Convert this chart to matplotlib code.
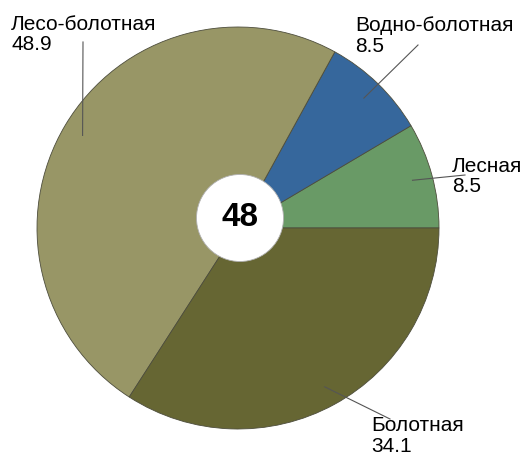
import numpy as np
import matplotlib.pyplot as plt
from matplotlib.patches import Circle

plt.rcParams['font.family'] = ['Liberation Sans', 'DejaVu Sans']

# wetland types, counter-clockwise from 3 o'clock
categories = ["Лесная", "Водно-болотная", "Лесо-болотная", "Болотная"]
shares = [8.5, 8.5, 48.9, 34.1]
colors = ["#699a66", "#36679c", "#989666", "#666633"]
total_label = "48"

W, H = 522, 458
CX, CY, R = 238, H - 228, 201

fig = plt.figure(figsize=(W / 100, H / 100), dpi=100)
ax = fig.add_axes([0, 0, 1, 1])

wedges, _ = ax.pie(
    shares,
    colors=colors,
    startangle=0,
    counterclock=True,
    center=(CX, CY),
    radius=R,
    wedgeprops=dict(edgecolor="#4d4d3c", linewidth=0.6),
)

# white disc with the total in the middle
ax.add_patch(Circle((240, H - 218), 43.5, facecolor="white",
                    edgecolor="#b0b0b0", linewidth=0.6, zorder=5))
ax.text(240, H - 218, total_label, ha="center", va="center",
        fontsize=24, fontweight="bold", zorder=6)

# label text position (left, top) and leader line start, image pixels
label_pos = [(452, 157), (355, 16), (11, 15), (371, 416)]
line_start = [(465, 175), (418, 45), (83, 42), (390, 419)]

for w, name, val, (tx, ty), (lx, ly) in zip(wedges, categories, shares,
                                            label_pos, line_start):
    mid = np.deg2rad((w.theta1 + w.theta2) / 2)
    ex = CX + 0.9 * R * np.cos(mid)
    ey = CY + 0.9 * R * np.sin(mid)
    ax.plot([lx, ex], [H - ly, ey], color="#555555", linewidth=0.8, zorder=4)
    ax.text(tx, H - ty, f"{name}\n{val}", ha="left", va="top",
            fontsize=15, linespacing=1.1, zorder=6)

ax.set_xlim(0, W)
ax.set_ylim(0, H)
ax.set_aspect("equal")
ax.axis("off")

fig.savefig("out.png", dpi=100, facecolor="white")
plt.close(fig)
